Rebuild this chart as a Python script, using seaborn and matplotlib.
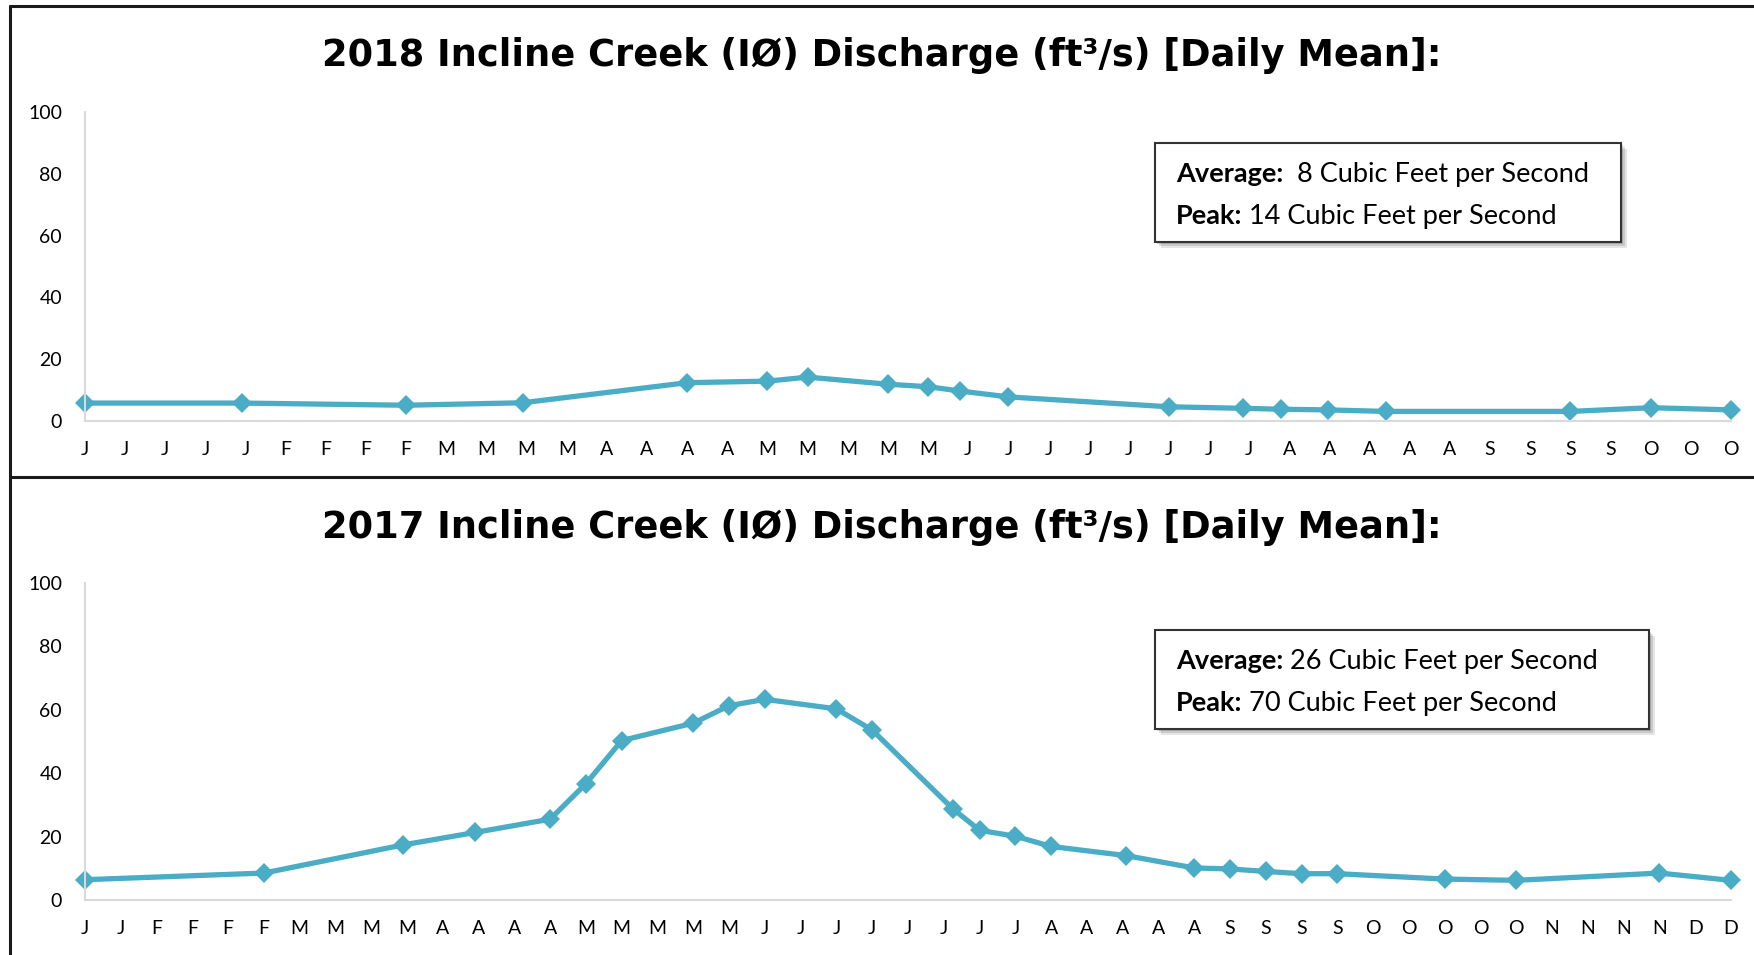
import matplotlib
matplotlib.use("Agg")
import matplotlib.pyplot as plt
import seaborn as sns
from matplotlib.patches import Rectangle
from matplotlib.lines import Line2D

# x positions are given in tick units (one tick per month-letter label)
weeks_2018 = [0, 3.9, 8.0, 10.9, 15.0, 17.0, 18.0, 20.0, 21.0, 21.8,
              23.0, 27.0, 28.85, 29.8, 30.95, 32.4, 37.0, 39.0, 41.0]
flow_2018 = [5.8, 5.8, 5.1, 5.9, 12.4, 12.9, 14.2, 11.9, 11.1, 9.7,
             7.8, 4.6, 4.1, 3.8, 3.6, 3.1, 3.1, 4.3, 3.6]
ticks_2018 = list("JJJJJFFFFMMMMAAAAMMMMMJJJJJJJJAAAAASSSSOOO")

weeks_2017 = [0, 5.0, 8.9, 10.9, 13.0, 14.0, 15.0, 17.0, 18.0, 19.0,
              21.0, 22.0, 24.25, 25.0, 26.0, 27.0, 29.1, 31.0, 32.0, 33.0,
              34.0, 35.0, 38.0, 40.0, 44.0, 46.0]
flow_2017 = [6.4, 8.5, 17.4, 21.3, 25.5, 36.7, 50.3, 55.8, 61.3, 63.3,
             60.3, 53.6, 28.8, 22.0, 20.1, 16.9, 14.0, 10.1, 9.8, 9.0,
             8.3, 8.3, 6.6, 6.2, 8.5, 6.2]
ticks_2017 = list("JJFFFFMMMMAAAAMMMMMJJJJJJJJAAAAASSSSOOOOONNNNDD")

avg_2018, peak_2018 = 8, 14
avg_2017, peak_2017 = 26, 70

LINE = "#4BACC6"
W, H = 1754, 955


def fx(px):
    return px / W


def fy(py):
    return 1 - py / H


def draw_panel(fig, top_px, bottom_px, weeks, flow, labels):
    ax = fig.add_axes([fx(85), fy(bottom_px), fx(1731) - fx(85), fy(top_px) - fy(bottom_px)])
    sns.lineplot(x=weeks, y=flow, ax=ax, color=LINE, linewidth=3.8,
                 marker="D", markersize=10, markeredgewidth=0, clip_on=False)
    ax.set_xlim(0, len(labels) - 1)
    ax.set_ylim(0, 100)
    ax.set_yticks(range(0, 101, 20))
    ax.set_xticks(range(len(labels)))
    ax.set_xticklabels(labels)
    ax.tick_params(axis="x", length=0, pad=14.5, labelsize=14, labelcolor="black")
    ax.tick_params(axis="y", length=0, pad=16.5, labelsize=14, labelcolor="black")
    for side in ["top", "right"]:
        ax.spines[side].set_visible(False)
    for side in ["left", "bottom"]:
        ax.spines[side].set_color("#D9D9D9")
        ax.spines[side].set_linewidth(1.5)
    ax.grid(False)
    return ax


def stats_box(fig, x0, y0, x1, y1, avg, peak, avg_gap):
    # soft shadow towards the lower right, then the white box
    for i, a in enumerate([0.10, 0.12, 0.15]):
        off = 6 - 2 * i
        fig.add_artist(Rectangle((fx(x0 + off), fy(y1 + off)), fx(x1 - x0), fy(y0) - fy(y1),
                                 transform=fig.transFigure, facecolor="black",
                                 edgecolor="none", alpha=a))
    fig.add_artist(Rectangle((fx(x0), fy(y1)), fx(x1 - x0), fy(y0) - fy(y1),
                             transform=fig.transFigure, facecolor="white",
                             edgecolor="#333333", linewidth=1.5))
    renderer = fig.canvas.get_renderer()
    rows = [(y0 + 39, "Average:", avg_gap + f"{avg} Cubic Feet per Second"),
            (y0 + 81, "Peak:", f" {peak} Cubic Feet per Second")]
    for row, label, value in rows:
        t = fig.text(fx(x0 + 21), fy(row), label, fontsize=19.5, fontweight="bold",
                     va="baseline", color="black")
        right = t.get_window_extent(renderer=renderer).x1
        fig.text(right / fig.bbox.width, fy(row), value, fontsize=19.5, va="baseline",
                 color="black")


sns.set_style("white")
plt.rcParams["font.family"] = ["Lato", "DejaVu Sans"]

fig = plt.figure(figsize=(W / 100, H / 100), dpi=100)

draw_panel(fig, 112, 421, weeks_2018, flow_2018, ticks_2018)
draw_panel(fig, 583, 900, weeks_2017, flow_2017, ticks_2017)

for year, ypx in [(2018, 56), (2017, 527)]:
    fig.text(fx(882), fy(ypx), f"{year} Incline Creek (IØ) Discharge (ft³/s) [Daily Mean]:",
             ha="center", va="center", fontsize=26.5, fontweight="bold", color="black",
             family=["DejaVu Sans"])

stats_box(fig, 1155, 143, 1621, 242, avg_2018, peak_2018, "  ")
stats_box(fig, 1155, 630, 1649, 729, avg_2017, peak_2017, " ")

# chart frames
for xs, ys in [([fx(10), fx(10)], [fy(6), 0]),
               ([fx(10), 1], [fy(6), fy(6)]),
               ([fx(10), 1], [fy(477), fy(477)])]:
    fig.add_artist(Line2D(xs, ys, transform=fig.transFigure, color="#1a1a1a", linewidth=2.2))

plt.savefig("out.png", dpi=100)
